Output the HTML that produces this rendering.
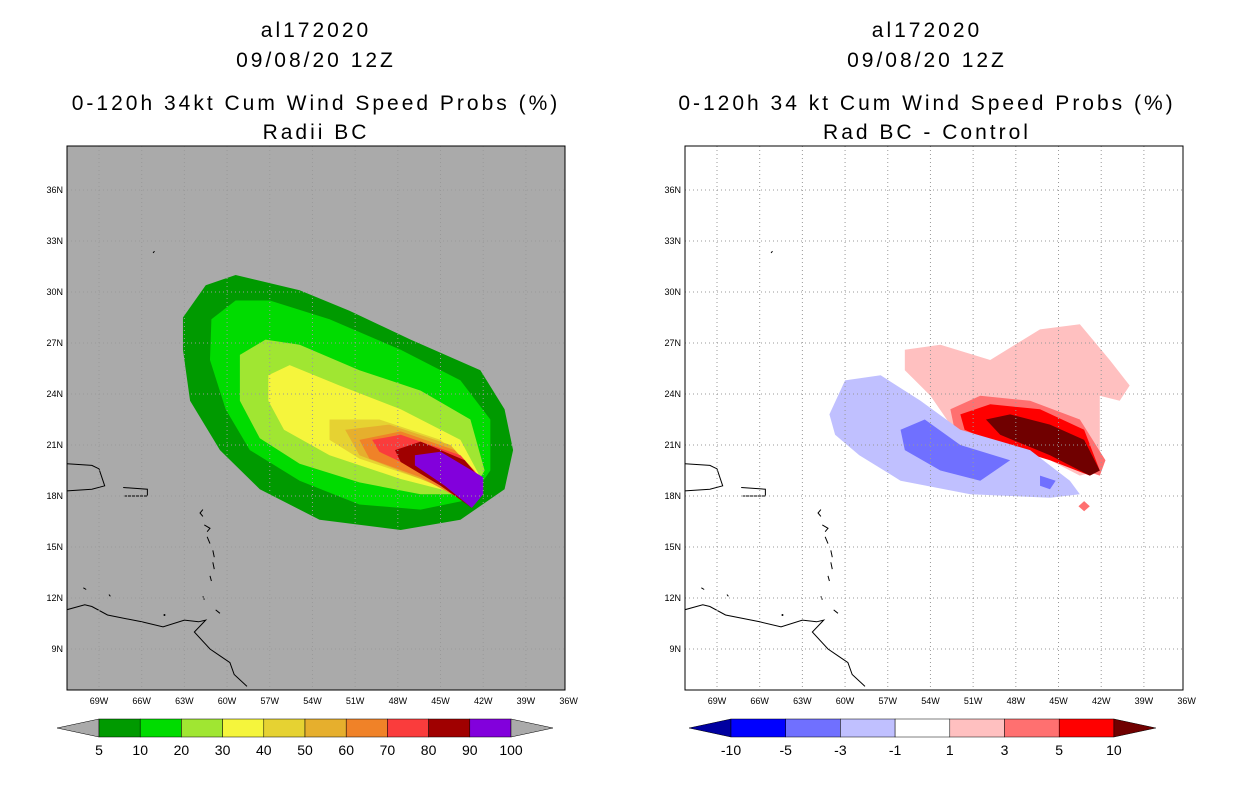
<!DOCTYPE html>
<html><head><meta charset="utf-8"><style>
body{margin:0;background:#fff;width:1236px;height:800px;overflow:hidden}
svg{display:block}
text{font-family:"Liberation Sans",sans-serif;fill:#000}
</style></head><body>
<svg id="s" width="1236" height="800"></svg>
<script>
const latTicks=[36,33,30,27,24,21,18,15,12,9];
const lonTicks=[69,66,63,60,57,54,51,48,45,42,39,36];
const leftLevels=["5","10","20","30","40","50","60","70","80","90","100"];
const leftColors=["#009a00","#00dc00","#a0e632","#f5f53c","#e6d232","#e6af2d","#f08228","#fa3c3c","#a00000","#8200dc"];
const rightLevels=["-10","-5","-3","-1","1","3","5","10"];
const rightColors=["#0000a0","#0000ff","#7070ff","#c0c0ff","#ffffff","#ffc0c0","#ff7070","#ff0000","#700000"];
// contours [lonW, latN]
const c5=[[63.1,28.5],[61.5,30.4],[59.4,31],[54.9,30.1],[51.4,28.9],[47.1,27.2],[42.2,25.4],[40.5,23.1],[39.9,20.7],[40.5,18.4],[43.6,16.6],[47.8,16],[53.5,16.6],[57.7,18.4],[60.5,20.7],[62.6,23.6],[63.1,26.6]];
const c10=[[61.1,28.4],[59.4,29.5],[57,29.5],[52.8,28.4],[47.8,26.6],[43.6,24.8],[41.5,22.5],[41.5,19.5],[42.9,17.8],[46.4,17.2],[50.7,17.5],[54.9,18.9],[58.4,20.7],[60.1,23.1],[61.2,26]];
const c20=[[59.1,26.3],[57.3,27.2],[54.9,26.9],[50.7,25.4],[46.4,24.2],[42.9,22.5],[41.9,19.5],[42.9,18.1],[46.4,18.1],[50.7,18.8],[54.9,19.9],[57.7,21.4],[59.1,23.6]];
const c30=[[57.1,25.1],[55.6,25.7],[52.1,24.5],[47.8,23.1],[43.6,21.3],[42.2,19.1],[43.6,18.1],[47.8,19],[52.8,20.4],[56,21.9],[57.1,23.6]];
const c40=[[52.8,22.5],[49.3,22.5],[45,21.3],[42.6,19.5],[42.9,18.1],[46.4,19],[50.7,20.2],[52.8,21.3]];
const c50=[[51.7,21.9],[48.6,22.2],[44.3,21],[42.4,19.2],[42.9,17.8],[46.4,19],[50.7,20.4]];
const c60=[[50.7,21.3],[47.8,21.8],[44,20.7],[42.2,19.1],[42.9,17.5],[46.4,19.1],[50,20.2]];
const c70=[[49.8,21.3],[47.8,21.6],[43.6,20.4],[42,18.9],[42.8,17.3],[45,18.9],[49.3,20.6]];
const c80=[[48.2,20.7],[46.4,21.2],[43.3,20.1],[42,18.8],[42.8,17.3],[45,18.6],[47.8,20]];
const c90=[[46.8,20.4],[45,20.6],[42,19.1],[42,18.1],[42.8,17.3],[44.7,18.6],[46.8,19.8]];
const d1=[[55.8,26.6],[53.3,26.9],[49.8,26],[46.3,27.8],[43.5,28.1],[41.4,26],[40,24.5],[40.7,23.6],[42.1,23.9],[42.1,22.5],[42.1,19.5],[43.5,19.2],[45.6,20.1],[49.1,21.3],[52.6,22.2],[54,23.9],[55.8,25.4]];
const d3=[[52.6,23.1],[50.5,23.9],[47,23.6],[43.5,22.5],[41.7,20.1],[42.1,19.2],[44.2,19.8],[49.1,21],[52.3,21.9]];
const d5=[[51.9,22.8],[49.8,23.4],[46.3,23.1],[43.2,21.9],[42.1,19.5],[42.8,19.2],[45.6,20.1],[49.1,21],[51.6,21.9]];
const d10=[[50.1,22.5],[48.4,22.8],[45.6,22.2],[43.2,21.3],[42.1,19.5],[42.8,19.2],[45.6,20.4],[49.1,21.6]];
const dm1=[[61.1,22.8],[60,24.8],[57.5,25.1],[54.7,23.6],[51.9,21.9],[47,20.7],[44.2,18.9],[43.5,18.1],[45.6,17.9],[51.2,18.1],[56.1,18.9],[59,20.4],[60.7,21.6]];
const dm3=[[56.1,21.9],[54.4,22.5],[51.9,21],[48.4,20.1],[50.5,18.9],[53.3,19.5],[55.8,20.7]];
const dm3b=[[46.3,19.2],[45.2,18.9],[45.6,18.4],[46.3,18.6]];
const dDot=[[43.2,17.7],[42.8,17.4],[43.2,17.1],[43.6,17.4]];
const coast=[
 [[71.3,19.9],[69.5,19.8],[69,19.6],[68.6,18.6],[69.5,18.4],[71.3,18.3]],
 [[67.3,18.5],[65.6,18.4],[65.6,18],[67.2,18]],
 [[61.7,17.2],[61.9,17],[61.7,16.8]],[[61.6,16.3],[61.2,16.1],[61.4,15.9]],[[61.4,15.6],[61.2,15.2]],[[61,14.8],[60.9,14.4]],[[61,14.1],[60.9,13.7]],[[61.2,13.3],[61.1,13]],[[61.7,12.1],[61.6,11.9]],[[60.8,11.3],[60.5,11.1]],
 [[71.3,11.3],[70,11.6],[69.5,11.5],[68.4,11],[66,10.6],[64.5,10.3],[63,10.7],[62,10.6],[61.5,10.7],[62.3,10],[61.2,9],[60.5,8.6],[59.8,8.2],[59.5,7.5],[58.6,6.8]],
 [[69.9,12.5],[70.1,12.6]],[[68.3,12.2],[68.2,12.1]],[[64.4,11]],[[65.2,32.3],[65.1,32.4]]
];
const ns="http://www.w3.org/2000/svg";
const S=document.getElementById('s');
function mk(t,a,p){const e=document.createElementNS(ns,t);for(const k in a)e.setAttribute(k,a[k]);(p||S).appendChild(e);return e;}
function panel(off,bg,polys,pname){
 const X=lon=>off+99+(69-lon)*14.23, Y=lat=>190+(36-lat)*17;
 const g=mk('g',{});
 
 
 const cp=mk('clipPath',{id:'cp'+off},g);mk('rect',{x:off+67,y:146,width:498,height:544},cp);
 mk('rect',{x:off+67,y:146,width:498,height:544,fill:bg},g);
 const inner=mk('g',{'clip-path':'url(#cp'+off+')'},g);
 polys.forEach(([pts,col,nm])=>{const p=mk('polygon',{points:pts.map(q=>X(q[0])+','+Y(q[1])).join(' '),fill:col},inner);
  
  });
 coast.forEach(l=>{if(l.length==1){mk('circle',{cx:X(l[0][0]),cy:Y(l[0][1]),r:1,fill:'#000'},inner);return;}
  mk('polyline',{points:l.map(q=>X(q[0])+','+Y(q[1])).join(' '),fill:'none',stroke:'#000','stroke-width':1},inner);});
 latTicks.forEach(v=>{mk('line',{x1:off+67,x2:off+565,y1:Y(v),y2:Y(v),stroke:'#999','stroke-dasharray':'1,3'},inner);
  const t=mk('text',{x:off+63,y:Y(v)+3,'font-size':9,'text-anchor':'end'},g);t.textContent=v+'N';
  
  });
 lonTicks.forEach(v=>{mk('line',{x1:X(v),x2:X(v),y1:146,y2:690,stroke:'#999','stroke-dasharray':'1,3'},inner);
  const t=mk('text',{x:X(v),y:704,'font-size':9,'text-anchor':'middle'},g);t.textContent=v+'W';
  
  });
 mk('rect',{x:off+67,y:146,width:498,height:544,fill:'none',stroke:'#000','stroke-width':1},g);
}
panel(0,'#aaaaaa',[[c5,leftColors[0],'contour-5'],[c10,leftColors[1],'contour-10'],[c20,leftColors[2],'contour-20'],[c30,leftColors[3],'contour-30'],[c40,leftColors[4],'contour-40'],[c50,leftColors[5],'contour-50'],[c60,leftColors[6],'contour-60'],[c70,leftColors[7],'contour-70'],[c80,leftColors[8],'contour-80'],[c90,leftColors[9],'contour-90']],'left-map');
panel(618,'#ffffff',[[d1,rightColors[5],'diff-1'],[d3,rightColors[6],'diff-3'],[d5,rightColors[7],'diff-5'],[d10,rightColors[8],'diff-10'],[dm1,rightColors[3],'diff-neg1'],[dm3,rightColors[2],'diff-neg3'],[dm3b,rightColors[2],'diff-neg3b'],[dDot,rightColors[6],'diff-dot']],'right-map');
function cbar(x0,w,cols,labs,endL,endR,nm){
 const g=mk('g',{});
 
 
 const n=cols.length;
 mk('polygon',{points:`${x0-42},728 ${x0},719 ${x0},737`,fill:endL,stroke:'#000','stroke-width':0.5},g);
 cols.forEach((c,i)=>mk('rect',{x:x0+i*w,y:719,width:w,height:18,fill:c,stroke:'#000','stroke-width':0.5},g));
 mk('polygon',{points:`${x0+n*w+42},728 ${x0+n*w},719 ${x0+n*w},737`,fill:endR,stroke:'#000','stroke-width':0.5},g);
 labs.forEach((l,i)=>{const t=mk('text',{x:x0+i*w,y:755,'font-size':14,'text-anchor':'middle'},g);t.textContent=l;
  
  });
}
cbar(99,41.2,leftColors,leftLevels.slice(0,10),'#aaaaaa','#aaaaaa','left-colorbar');
{const t=mk('text',{x:99+41.2*10,y:755,'font-size':14,'text-anchor':'middle'});t.textContent=leftLevels[10];

}
cbar(731,54.7,rightColors.slice(1,8),rightLevels,rightColors[0],rightColors[8],'right-colorbar');
function title(cx,lines){lines.forEach(([s,y])=>{const t=mk('text',{x:cx,y:y,'font-size':21,'text-anchor':'middle','letter-spacing':3});t.textContent=s;
 
 });}
title(316,[["al172020",37],["09/08/20 12Z",67],["0-120h 34kt Cum Wind Speed Probs (%)",110],["Radii BC",139]]);
title(927,[["al172020",37],["09/08/20 12Z",67],["0-120h 34 kt Cum Wind Speed Probs (%)",110],["Rad BC - Control",139]]);
</script>
</body></html>
